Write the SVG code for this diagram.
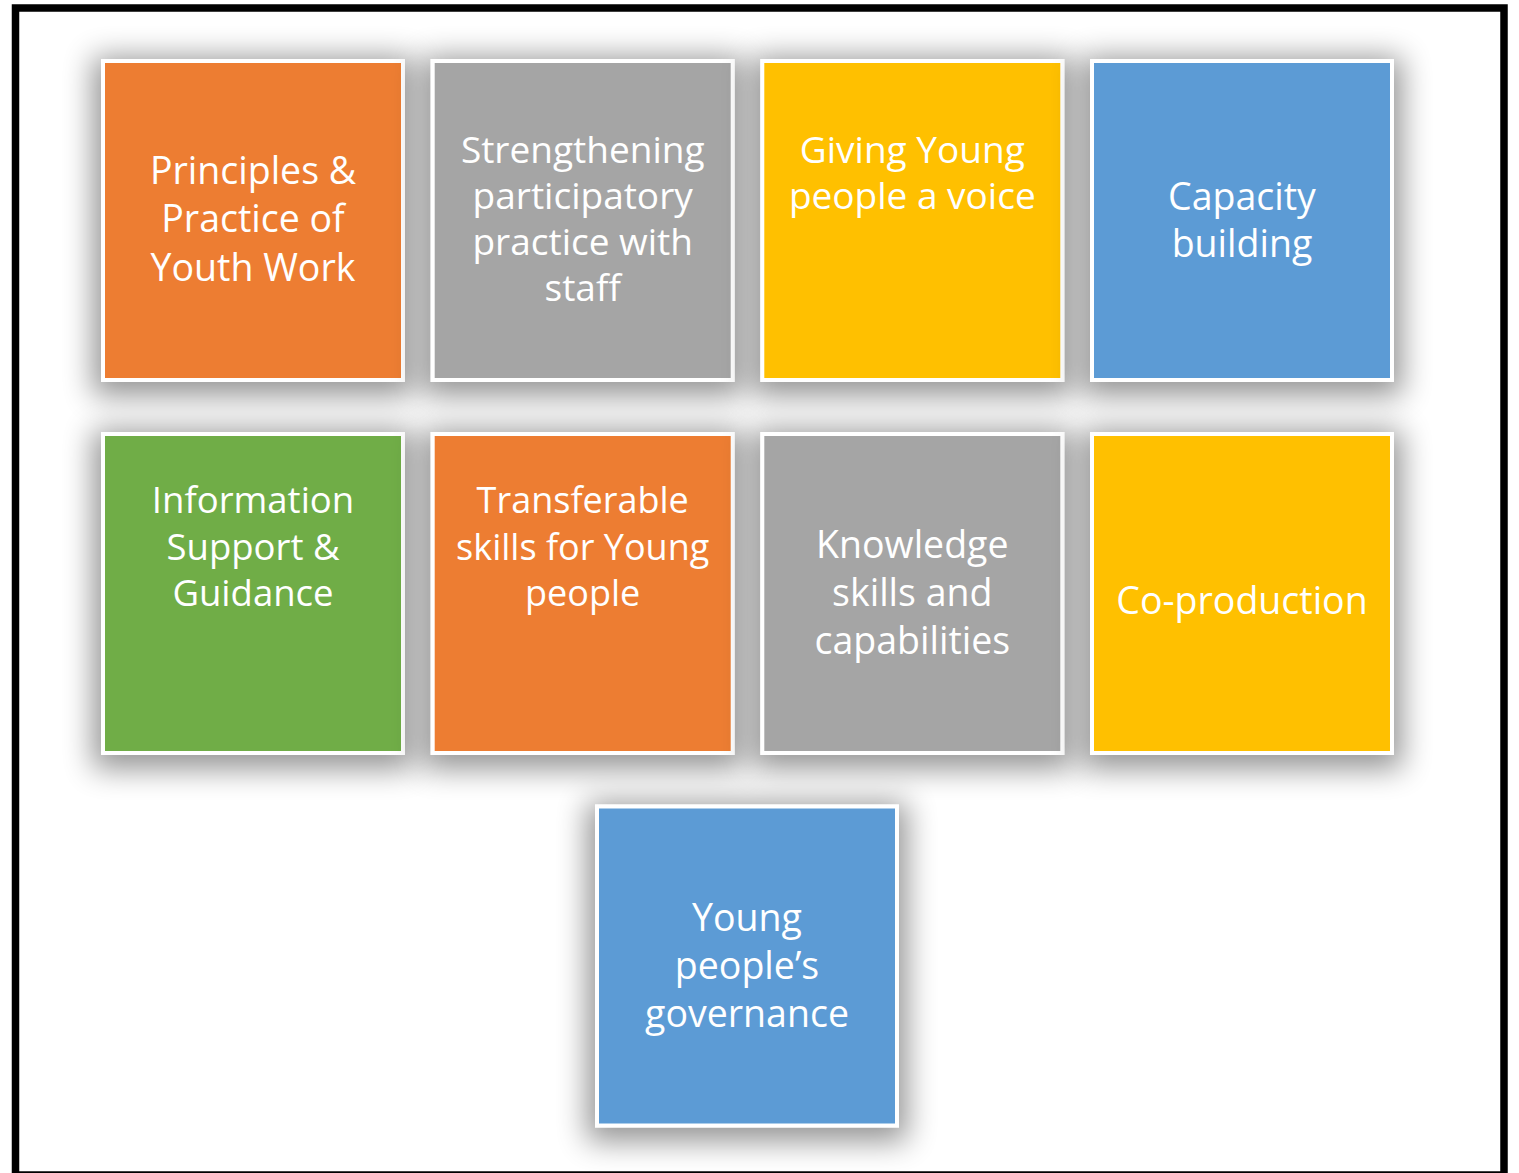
<svg xmlns="http://www.w3.org/2000/svg" width="1519" height="1173" viewBox="0 0 1519 1173">
<defs>
<filter id="sh" x="-30%" y="-30%" width="160%" height="160%">
<feMorphology in="SourceAlpha" operator="dilate" radius="8" result="d"/>
<feGaussianBlur in="d" stdDeviation="15" result="b"/>
<feOffset in="b" dx="0" dy="6" result="o"/>
<feComponentTransfer in="o" result="c"><feFuncA type="linear" slope="0.42"/></feComponentTransfer>
<feMerge><feMergeNode in="c"/><feMergeNode in="SourceGraphic"/></feMerge>
</filter>
<style>
.box{stroke:#fff;stroke-width:4;filter:url(#sh)}
.t{font-family:"Open Sans","Noto Sans","Liberation Sans",sans-serif;font-size:37.5px;fill:#fff;text-anchor:middle}
.s{font-size:37px}
.orange{fill:#ED7D31}.gray{fill:#A5A5A5}.yellow{fill:#FFC000}.blue{fill:#5B9BD5}.green{fill:#70AD47}
</style>
</defs>
<rect x="0" y="0" width="1519" height="1173" fill="#fff"/>
<rect x="15.5" y="8" width="1488.5" height="1167" fill="#fff" stroke="#000" stroke-width="7.5"/>
<g id="connectors"></g>
<g id="n1"><rect class="box orange" x="103" y="61" width="300" height="319"/>
<text class="t"><tspan x="253" y="184">Principles &amp;</tspan><tspan x="253" y="232">Practice of</tspan><tspan x="253" y="281">Youth Work</tspan></text></g>
<g id="n2"><rect class="box gray" x="432.7" y="61" width="300" height="319"/>
<text class="t s"><tspan x="582.7" y="163">Strengthening</tspan><tspan x="582.7" y="209">participatory</tspan><tspan x="582.7" y="255">practice with</tspan><tspan x="582.7" y="301">staff</tspan></text></g>
<g id="n3"><rect class="box yellow" x="762.3" y="61" width="300" height="319"/>
<text class="t s"><tspan x="912.3" y="163">Giving Young</tspan><tspan x="912.3" y="209">people a voice</tspan></text></g>
<g id="n4"><rect class="box blue" x="1092" y="61" width="300" height="319"/>
<text class="t"><tspan x="1242" y="210">Capacity</tspan><tspan x="1242" y="257">building</tspan></text></g>
<g id="n5"><rect class="box green" x="103" y="434" width="300" height="319"/>
<text class="t" style="font-size:36.5px"><tspan x="253" y="513">Information</tspan><tspan x="253" y="560">Support &amp;</tspan><tspan x="253" y="606">Guidance</tspan></text></g>
<g id="n6"><rect class="box orange" x="432.7" y="434" width="300" height="319"/>
<text class="t" style="font-size:36px"><tspan x="582.7" y="513">Transferable</tspan><tspan x="582.7" y="560">skills for Young</tspan><tspan x="582.7" y="606">people</tspan></text></g>
<g id="n7"><rect class="box gray" x="762.3" y="434" width="300" height="319"/>
<text class="t"><tspan x="912.3" y="558">Knowledge</tspan><tspan x="912.3" y="606">skills and</tspan><tspan x="912.3" y="654">capabilities</tspan></text></g>
<g id="n8"><rect class="box yellow" x="1092" y="434" width="300" height="319"/>
<text class="t"><tspan x="1242" y="614">Co-production</tspan></text></g>
<g id="n9"><rect class="box blue" x="597" y="806.5" width="300" height="319"/>
<text class="t"><tspan x="747" y="931">Young</tspan><tspan x="747" y="979">people’s</tspan><tspan x="747" y="1027">governance</tspan></text></g>
</svg>
